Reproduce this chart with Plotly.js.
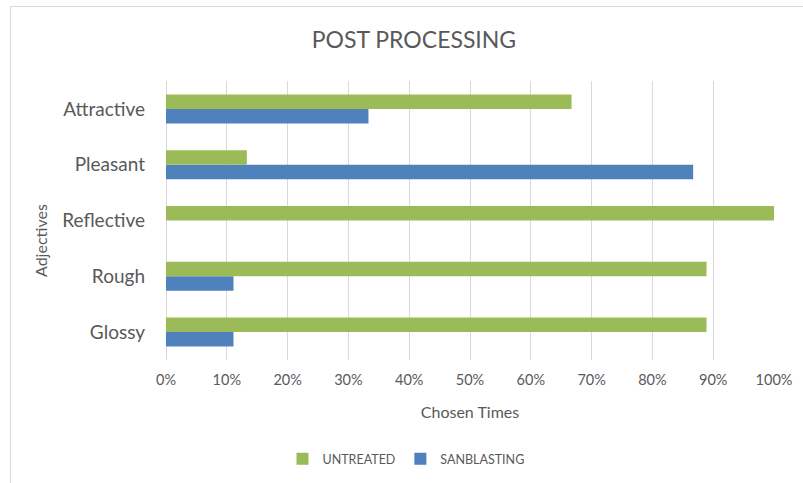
<!DOCTYPE html>
<html>
<head>
<meta charset="utf-8">
<script src="https://cdn.plot.ly/plotly-3.0.1.min.js"></script>
<style>
  html, body { margin: 0; padding: 0; background: #fff; }
  #wrap { position: relative; width: 803px; height: 483px; overflow: hidden; }
  #chart { width: 803px; height: 483px; }
  #frame { position: absolute; left: 10px; top: 6px; width: 900px; height: 600px;
           border-left: 1.5px solid #d9d9d9; border-top: 1.5px solid #d9d9d9; pointer-events: none; }
</style>
</head>
<body>
<div id="wrap">
  <div id="chart"></div>
  <div id="frame"></div>
</div>
<script>
const categories = ["Glossy", "Rough", "Reflective", "Pleasant", "Attractive"];
const untreated = [0.889, 0.889, 1.0, 0.133, 0.667];
const sanblasting = [0.111, 0.111, 0.0, 0.867, 0.333];
const xTickVals = [0, 0.1, 0.2, 0.3, 0.4, 0.5, 0.6, 0.7, 0.8, 0.9, 1.0];
const xTickText = ["0%", "10%", "20%", "30%", "40%", "50%", "60%", "70%", "80%", "90%", "100%"];
const yAxisTitle = "Adjectives";

const FONT = "Lato, 'Open Sans', sans-serif";

const traces = [
  {
    type: "bar", orientation: "h", name: "SANBLASTING",
    y: categories, x: sanblasting,
    marker: { color: "#4F81BD" },
    legendrank: 2, hoverinfo: "x+y"
  },
  {
    type: "bar", orientation: "h", name: "UNTREATED",
    y: categories, x: untreated,
    marker: { color: "#9BBB59" },
    legendrank: 1, hoverinfo: "x+y"
  }
];

const layout = {
  width: 803, height: 483,
  paper_bgcolor: "rgba(0,0,0,0)", plot_bgcolor: "#fff",
  font: { family: FONT, color: "#595959" },
  margin: { l: 166, r: 29, t: 81, b: 123 },
  barmode: "group",
  bargap: 0.48,
  bargroupgap: 0,
  title: {
    text: "POST PROCESSING",
    font: { family: FONT, size: 23, color: "#595959" },
    xref: "container", x: 414 / 803, xanchor: "center",
    yref: "container", y: 1 - 40 / 483, yanchor: "middle"
  },
  xaxis: {
    range: [0, 1],
    tickvals: xTickVals, ticktext: xTickText,
    showgrid: true, gridcolor: "#d9d9d9", gridwidth: 1,
    zeroline: true, zerolinecolor: "#d9d9d9", zerolinewidth: 1,
    showline: false, ticks: "",
    ticklabelstandoff: 9,
    tickfont: { family: FONT, size: 14.5, color: "#595959" },
    title: { text: "Chosen Times", font: { family: FONT, size: 16, color: "#595959" }, standoff: 20 },
    fixedrange: true
  },
  yaxis: {
    type: "category",
    categoryorder: "array", categoryarray: categories,
    showgrid: false, zeroline: false, showline: false, ticks: "",
    ticklabelstandoff: 20,
    tickfont: { family: FONT, size: 19, color: "#595959" },
    fixedrange: true
  },
  annotations: [{
    text: yAxisTitle, textangle: -90, showarrow: false,
    xref: "paper", yref: "paper",
    x: (40 - 166) / 608, y: (360 - 241) / 279,
    xanchor: "center", yanchor: "middle",
    font: { family: FONT, size: 16, color: "#595959" }
  }],
  showlegend: true,
  legend: {
    orientation: "h",
    xref: "container", x: 406 / 803, xanchor: "center",
    yref: "container", y: 1 - 459 / 483, yanchor: "middle",
    font: { family: FONT, size: 12.5, color: "#595959" },
    itemwidth: 30, tracegroupgap: 0
  }
};

Plotly.newPlot("chart", traces, layout, { displayModeBar: false, staticPlot: true });
</script>
</body>
</html>
